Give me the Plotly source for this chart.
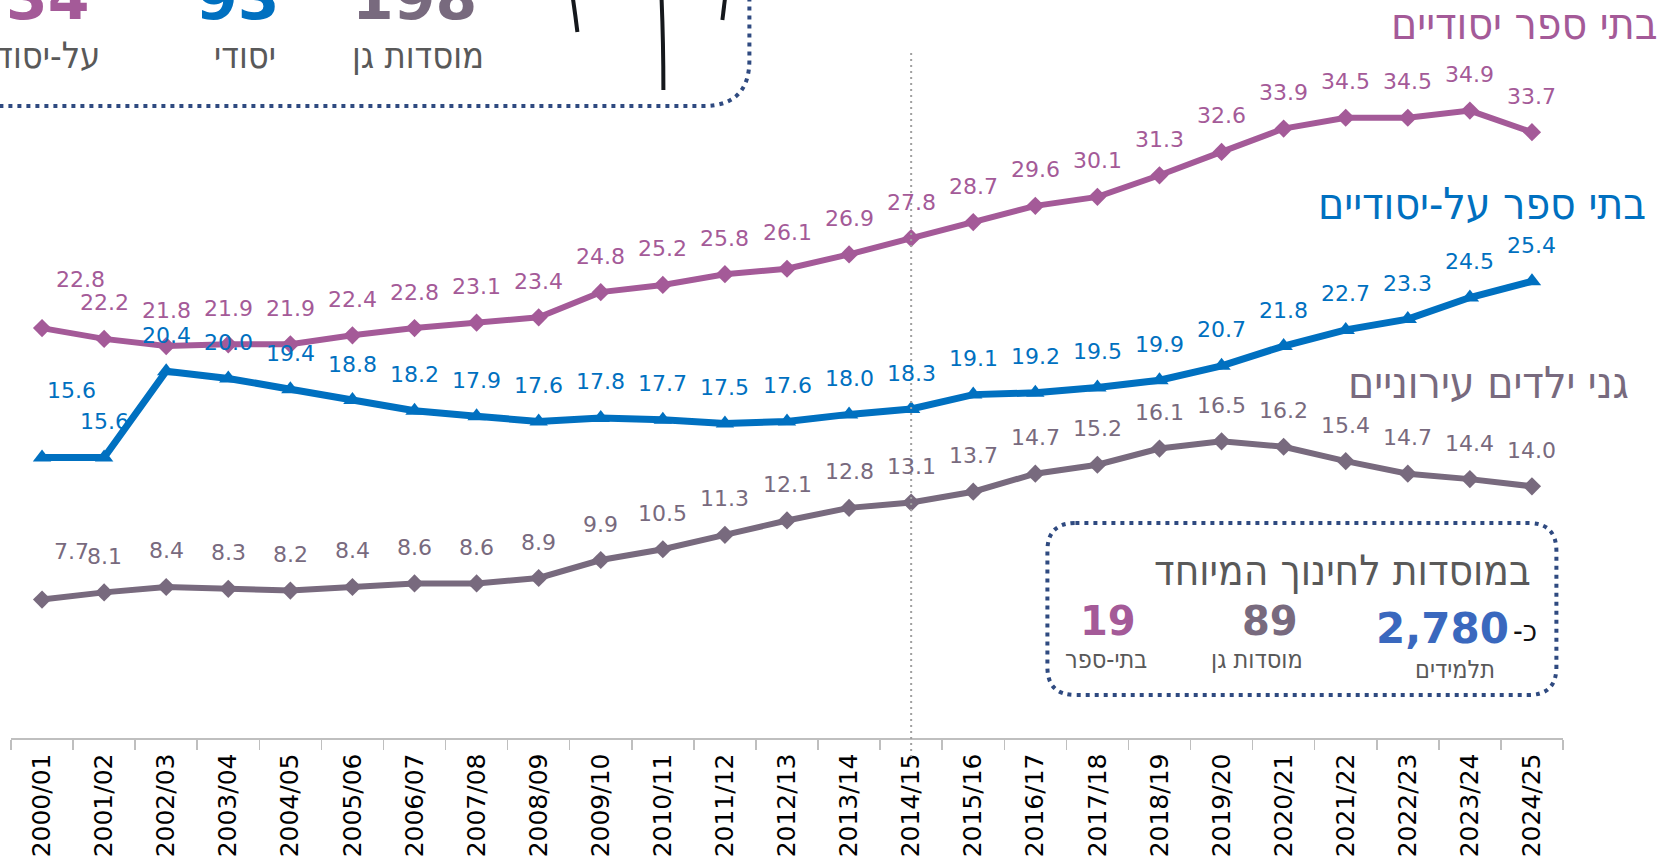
import plotly.graph_objects as go

# ---------------- data ----------------
years = ["2000/01", "2001/02", "2002/03", "2003/04", "2004/05", "2005/06", "2006/07",
         "2007/08", "2008/09", "2009/10", "2010/11", "2011/12", "2012/13", "2013/14",
         "2014/15", "2015/16", "2016/17", "2017/18", "2018/19", "2019/20", "2020/21",
         "2021/22", "2022/23", "2023/24", "2024/25"]
elementary = [22.8, 22.2, 21.8, 21.9, 21.9, 22.4, 22.8, 23.1, 23.4, 24.8, 25.2, 25.8, 26.1,
              26.9, 27.8, 28.7, 29.6, 30.1, 31.3, 32.6, 33.9, 34.5, 34.5, 34.9, 33.7]
secondary = [15.6, 15.6, 20.4, 20.0, 19.4, 18.8, 18.2, 17.9, 17.6, 17.8, 17.7, 17.5, 17.6,
             18.0, 18.3, 19.1, 19.2, 19.5, 19.9, 20.7, 21.8, 22.7, 23.3, 24.5, 25.4]
kindergarten = [7.7, 8.1, 8.4, 8.3, 8.2, 8.4, 8.6, 8.6, 8.9, 9.9, 10.5, 11.3, 12.1, 12.8,
                13.1, 13.7, 14.7, 15.2, 16.1, 16.5, 16.2, 15.4, 14.7, 14.4, 14.0]
series_names = ["בתי ספר יסודיים", "בתי ספר על-יסודיים", "גני ילדים עירוניים"]
marker_year = "2014/15"

special_title = "במוסדות לחינוך המיוחד"
special_values = ["2,780", "89", "19"]
special_labels = ["תלמידים", "מוסדות גן", "בתי-ספר"]
top_values = ["34", "93", "198"]
top_labels = ["על-יסודי", "יסודי", "מוסדות גן"]

# ---------------- style ----------------
W, H = 1662, 862
ML, MR, MT, MB = 10.6, 99.4, 0, 124
PW = W - ML - MR
PH = H - MT - MB

PURPLE = "#A45A98"
BLUE = "#0070C0"
GRAY = "#786A7E"
TEXTGRAY = "#595959"
NAVY = "#2F4A80"
NUMFONT = "DejaVu Sans"
HEBFONT = "DejaVu Sans Condensed, DejaVu Sans"


def px(x):
    return (x - ML) / PW


def py(y):
    return (H - MB - y) / PH


fig = go.Figure()

series = [
    (elementary, PURPLE, "diamond", 14, 6),
    (secondary, BLUE, "triangle-up", 16, 7),
    (kindergarten, GRAY, "diamond", 14, 6),
]
for vals, col, sym, msize, lw in series:
    fig.add_trace(go.Scatter(
        x=years, y=vals, mode="lines+markers",
        line=dict(color=col, width=lw),
        marker=dict(symbol=sym, size=msize, color=col, line=dict(width=0)),
        hoverinfo="skip", showlegend=False, cliponaxis=False,
    ))

annotations = []
# label shifts for the first point of each series (others: default)
first_shift = {0: (38, 49), 1: (29, 67), 2: (29, 48)}
for si, (vals, col, sym, msize, lw) in enumerate(series):
    for i, v in enumerate(vals):
        xs, ys = (0, 36)
        if i == 0:
            xs, ys = first_shift[si]
        annotations.append(dict(
            x=years[i], y=v, xref="x", yref="y", text=f"{v:.1f}", showarrow=False,
            xshift=xs, yshift=ys, xanchor="center", yanchor="middle",
            font=dict(family=NUMFONT, size=22, color=col)))

# series names
name_pos = [(1660, 23, PURPLE), (1648, 204, BLUE), (1631, 382, GRAY)]
for name, (x, y, col) in zip(series_names, name_pos):
    annotations.append(dict(x=px(x), y=py(y), xref="paper", yref="paper", text=name,
                            showarrow=False, xanchor="right", yanchor="middle",
                            font=dict(family=HEBFONT, size=44, color=col)))

# special education box texts
annotations.append(dict(x=px(1533), y=py(570), xref="paper", yref="paper", text=special_title,
                        showarrow=False, xanchor="right", yanchor="middle",
                        font=dict(family=HEBFONT, size=42, color=TEXTGRAY)))
val_pos = [(1442, 628, "#3A68BE", 42), (1270, 621, GRAY, 40), (1108, 621, PURPLE, 40)]
for txt, (x, y, col, fs) in zip(special_values, val_pos):
    annotations.append(dict(x=px(x), y=py(y), xref="paper", yref="paper", text=f"<b>{txt}</b>",
                            showarrow=False, xanchor="center", yanchor="middle",
                            font=dict(family=NUMFONT, size=fs, color=col)))
annotations.append(dict(x=px(1525), y=py(630), xref="paper", yref="paper", text="-כ",
                        showarrow=False, xanchor="center", yanchor="middle",
                        font=dict(family=HEBFONT, size=30, color="#111111")))
lab_pos = [(1455, 669), (1257, 659), (1106, 659)]
for txt, (x, y) in zip(special_labels, lab_pos):
    annotations.append(dict(x=px(x), y=py(y), xref="paper", yref="paper", text=txt,
                            showarrow=False, xanchor="center", yanchor="middle",
                            font=dict(family=HEBFONT, size=25, color=TEXTGRAY)))

# top-left (cropped) numbers
top_num_pos = [(48, PURPLE), (238, BLUE), (414, GRAY)]
for txt, (x, col) in zip(top_values, top_num_pos):
    annotations.append(dict(x=px(x), y=py(-2), xref="paper", yref="paper", text=f"<b>{txt}</b>",
                            showarrow=False, xanchor="center", yanchor="middle",
                            font=dict(family=NUMFONT, size=60, color=col)))
top_lab_pos = [(102, "right"), (245, "center"), (418, "center")]
for txt, (x, anc) in zip(top_labels, top_lab_pos):
    annotations.append(dict(x=px(x), y=py(55), xref="paper", yref="paper", text=txt,
                            showarrow=False, xanchor=anc, yanchor="middle",
                            font=dict(family=HEBFONT, size=36, color=TEXTGRAY)))


def rrect(x0, y0, x1, y1, r):
    pts = (f"M {px(x0 + r)},{py(y0)} L {px(x1 - r)},{py(y0)} Q {px(x1)},{py(y0)} {px(x1)},{py(y0 + r)} "
           f"L {px(x1)},{py(y1 - r)} Q {px(x1)},{py(y1)} {px(x1 - r)},{py(y1)} "
           f"L {px(x0 + r)},{py(y1)} Q {px(x0)},{py(y1)} {px(x0)},{py(y1 - r)} "
           f"L {px(x0)},{py(y0 + r)} Q {px(x0)},{py(y0)} {px(x0 + r)},{py(y0)} Z")
    return pts


shapes = [
    # vertical reference line
    dict(type="line", xref="x", yref="paper", x0=marker_year, x1=marker_year,
         y0=py(757), y1=py(52), line=dict(color="#A0A0A0", width=2, dash="2px,4px")),
    # special education box
    dict(type="path", xref="paper", yref="paper", path=rrect(1047, 523, 1556, 695, 28),
         line=dict(color=NAVY, width=4, dash="4px,5px")),
    # top-left box border (cropped)
    dict(type="path", xref="paper", yref="paper",
         path=f"M {px(-10)},{py(106)} L {px(703)},{py(106)} Q {px(749)},{py(106)} {px(749)},{py(60)} L {px(749)},{py(-10)}",
         line=dict(color=NAVY, width=4, dash="4px,5px")),
    # black strokes of cropped drawing
    dict(type="path", xref="paper", yref="paper",
         path=f"M {px(572)},{py(-5)} Q {px(575)},{py(15)} {px(577)},{py(32)}",
         line=dict(color="#15181C", width=4)),
    dict(type="path", xref="paper", yref="paper",
         path=f"M {px(661)},{py(-5)} Q {px(663)},{py(40)} {px(663)},{py(90)}",
         line=dict(color="#15181C", width=4)),
    dict(type="path", xref="paper", yref="paper",
         path=f"M {px(725)},{py(-5)} L {px(722)},{py(20)}",
         line=dict(color="#15181C", width=4)),
]

fig.update_layout(
    width=W, height=H,
    margin=dict(l=ML, r=MR, t=MT, b=MB, autoexpand=False),
    paper_bgcolor="white", plot_bgcolor="white",
    showlegend=False, hovermode=False,
    annotations=annotations, shapes=shapes,
    xaxis=dict(type="category", range=[-0.5, 24.5], showgrid=False, zeroline=False,
               showline=True, linecolor="#BFBFBF", linewidth=1.5,
               ticks="outside", tickson="boundaries", ticklen=10, tickcolor="#BFBFBF",
               tickwidth=1.5, tickangle=-90, automargin=False, ticklabelstandoff=4,
               tickfont=dict(family=NUMFONT, size=25, color="black")),
    yaxis=dict(range=[0, 41.05], visible=False, fixedrange=True),
)

fig.write_html("out.html", config={"displayModeBar": False, "staticPlot": True},
               post_script="document.body.style.margin='0';document.body.style.overflow='hidden';")
